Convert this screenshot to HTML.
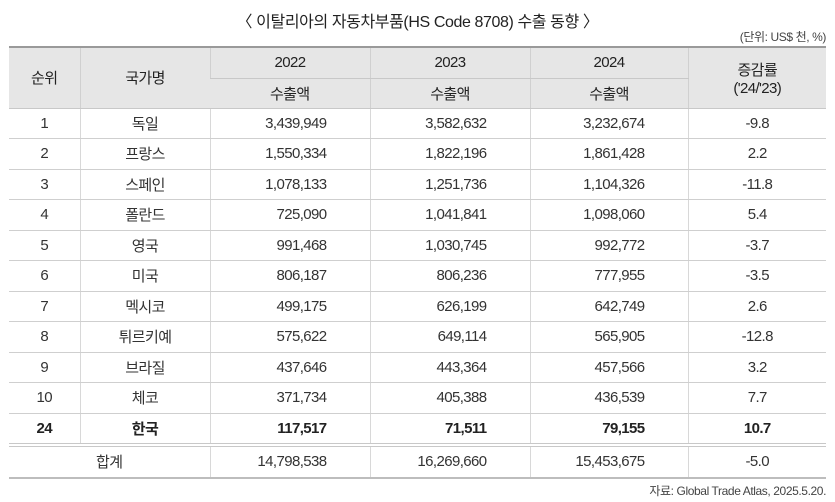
<!DOCTYPE html>
<html><head><meta charset="utf-8"><style>
body{margin:0;width:835px;height:502px;background:#fff;font-family:"Liberation Sans Narrow","Liberation Sans","Noto Sans CJK KR",sans-serif;color:#333;position:relative;overflow:hidden}
.title{position:absolute;top:8px;left:0;width:835px;text-align:center;font-size:16px;color:#222;letter-spacing:-0.4px}
.unit{position:absolute;top:28px;right:9px;font-size:12px;color:#444;letter-spacing:-0.4px}
.src{position:absolute;top:482px;right:9px;font-size:12px;color:#444;letter-spacing:-0.4px}
table{position:absolute;left:9px;top:46px;width:817px;border-collapse:collapse;font-size:15px;table-layout:fixed;letter-spacing:-0.6px}
th{background:#e6e6e6;font-weight:normal;color:#222;border-left:1px solid #d0d0d0;border-bottom:1px solid #c8c8c8}
thead tr:first-child th{border-top:2px solid #9a9a9a}
th:first-child,td:first-child{border-left:none}
td{border-left:1px solid #d8d8d8;border-bottom:1px solid #cfcfcf;height:29.5px;padding:0;text-align:center}
td.n{text-align:right;padding-right:43px}
tr.kr td{font-weight:bold;color:#222}
tr.kr td{border-bottom:4px double #c8c8c8}
tr.tot td{border-bottom:2px solid #bdbdbd}
</style></head><body>
<div class="title">〈 이탈리아의 자동차부품(HS Code 8708) 수출 동향 〉</div>
<div class="unit">(단위: US$ 천, %)</div>
<table>
<colgroup><col style="width:71px"><col style="width:130px"><col style="width:160px"><col style="width:160px"><col style="width:158px"><col style="width:138px"></colgroup>
<thead>
<tr style="height:31px"><th rowspan="2">순위</th><th rowspan="2">국가명</th><th>2022</th><th>2023</th><th>2024</th><th rowspan="2">증감률<br>('24/'23)</th></tr>
<tr style="height:30px"><th>수출액</th><th>수출액</th><th>수출액</th></tr>
</thead>
<tbody>
<tr><td>1</td><td>독일</td><td class="n">3,439,949</td><td class="n">3,582,632</td><td class="n">3,232,674</td><td>-9.8</td></tr>
<tr><td>2</td><td>프랑스</td><td class="n">1,550,334</td><td class="n">1,822,196</td><td class="n">1,861,428</td><td>2.2</td></tr>
<tr><td>3</td><td>스페인</td><td class="n">1,078,133</td><td class="n">1,251,736</td><td class="n">1,104,326</td><td>-11.8</td></tr>
<tr><td>4</td><td>폴란드</td><td class="n">725,090</td><td class="n">1,041,841</td><td class="n">1,098,060</td><td>5.4</td></tr>
<tr><td>5</td><td>영국</td><td class="n">991,468</td><td class="n">1,030,745</td><td class="n">992,772</td><td>-3.7</td></tr>
<tr><td>6</td><td>미국</td><td class="n">806,187</td><td class="n">806,236</td><td class="n">777,955</td><td>-3.5</td></tr>
<tr><td>7</td><td>멕시코</td><td class="n">499,175</td><td class="n">626,199</td><td class="n">642,749</td><td>2.6</td></tr>
<tr><td>8</td><td>튀르키예</td><td class="n">575,622</td><td class="n">649,114</td><td class="n">565,905</td><td>-12.8</td></tr>
<tr><td>9</td><td>브라질</td><td class="n">437,646</td><td class="n">443,364</td><td class="n">457,566</td><td>3.2</td></tr>
<tr><td>10</td><td>체코</td><td class="n">371,734</td><td class="n">405,388</td><td class="n">436,539</td><td>7.7</td></tr>
<tr class="kr"><td>24</td><td>한국</td><td class="n">117,517</td><td class="n">71,511</td><td class="n">79,155</td><td>10.7</td></tr>
<tr class="tot"><td colspan="2">합계</td><td class="n">14,798,538</td><td class="n">16,269,660</td><td class="n">15,453,675</td><td>-5.0</td></tr>
</tbody>
</table>
<div class="src">자료: Global Trade Atlas, 2025.5.20.</div>
</body></html>
